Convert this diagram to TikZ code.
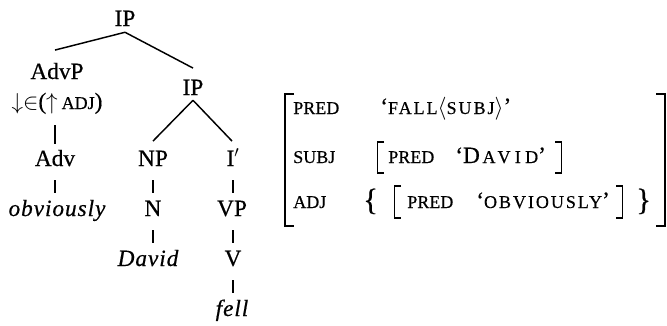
\documentclass[tikz,border=0pt]{standalone}
\usepackage{fontspec}
\setmainfont[FakeBold=0.5]{Liberation Serif}
\newfontfamily\valfont[LetterSpace=11,FakeBold=0.5]{Liberation Serif}
\newfontfamily\valwfont[LetterSpace=24,FakeBold=0.5]{Liberation Serif}
\newfontfamily\itfont[LetterSpace=4,FakeBold=0.5]{Liberation Serif}
\usetikzlibrary{calc}
\newcommand{\smc}[1]{{\fontsize{13.5}{15}\selectfont #1}}
\newcommand{\smv}[1]{{\valfont\fontsize{13.5}{15}\selectfont #1}}
\newcommand{\smw}[1]{{\valwfont\fontsize{13.5}{15}\selectfont #1}}
\newcommand{\itw}[1]{{\itfont\itshape #1}}
\begin{document}
\begin{tikzpicture}[x=0.75pt,y=-0.75pt,
  lab/.style={font=\fontsize{17.5}{20}\selectfont, inner sep=0pt, anchor=base, text height=11pt, text depth=0pt},
  edge/.style={line width=1.1pt},
  avm/.style={font=\fontsize{17.5}{20}\selectfont, inner sep=0pt, anchor=base west},
  brc/.style={font=\fontsize{23}{24}\selectfont, inner sep=0pt, anchor=base west},
  obrk/.style={line width=1.8pt},
  ibrk/.style={line width=1.1pt}]
\useasboundingbox (0,0) rectangle (667,325);
% tree
\node[lab] (ip1) at (125,26) {IP};
\node[lab] (advp) at (57,79) {AdvP};
\node[lab] (ann) at (57,109) {$\downarrow$$\in$($\uparrow$\,\smc{ADJ})};
\node[lab] (ip2) at (193,95) {IP};
\node[lab] (adv) at (55,166) {Adv};
\node[lab] (np) at (153,166) {NP};
\node[lab] (ibar) at (233,166) {I$'$};
\node[lab] (obv) at (57,216) {\itw{obviously}};
\node[lab] (n) at (153,216) {N};
\node[lab] (vp) at (232,216) {VP};
\node[lab] (david) at (148,266) {\itw{David}};
\node[lab] (v) at (233,266) {V};
\node[lab] (fell) at (232,316) {\itw{fell}};
\draw[edge] ($(ip1.south)+(0,6)$) -- ($(advp.north)+(-2,-14)$);
\draw[edge] ($(ip1.south)+(0,6)$) -- ($(ip2.north)+(0,-12)$);
\draw[edge] ($(ip2.south)+(0,5)$) -- ($(np.north)+(0,-10)$);
\draw[edge] ($(ip2.south)+(0,5)$) -- ($(ibar.north)+(-1,-10)$);
\draw[edge] ($(ann.south -| adv)+(0,16)$) -- ($(adv.north)+(0,-7)$);
\draw[edge] ($(adv.south)+(0,14)$) -- ($(adv.south |- obv.north)+(0,-8)$);
\draw[edge] ($(np.south)+(0,14)$) -- ($(n.north)+(0,-8)$);
\draw[edge] ($(n.south)+(0,14)$) -- ($(n.south |- david.north)+(0,-8)$);
\draw[edge] ($(ibar.south)+(0,14)$) -- ($(ibar.south |- vp.north)+(0,-8)$);
\draw[edge] ($(vp.south -| ibar)+(0,14)$) -- ($(ibar.south |- v.north)+(0,-8)$);
\draw[edge] ($(v.south -| ibar)+(0,14)$) -- ($(ibar.south |- fell.north)+(0,-8)$);
% AVM outer brackets
\draw[obrk] (294,94) -- (285,94) -- (285,226) -- (294,226);
\draw[obrk] (656,94) -- (665,94) -- (665,226) -- (656,226);
% row 1
\node[avm] (k1) at (293,114) {\smc{PRED}};
\node[avm] (v1) at (380,114) {‘\smv{FALL}$\langle$\smv{SUBJ}$\rangle$’};
% row 2
\node[avm] (k2) at (293,163) {\smc{SUBJ}};
\draw[ibrk] (384,142) -- (377.5,142) -- (377.5,173) -- (384,173);
\node[avm] (k2p) at (388,163) {\smc{PRED}};
\node[avm] (v2) at (455,163) {‘D\kern2pt\smw{AVID}’};
\draw[ibrk] (555,142) -- (561.5,142) -- (561.5,173) -- (555,173);
% row 3
\node[avm] (k3) at (293,208) {\smc{ADJ}};
\node[brc] (lbr) at (363,210) {\{};
\draw[ibrk] (401,186) -- (394.5,186) -- (394.5,218) -- (401,218);
\node[avm] (k3p) at (407,208) {\smc{PRED}};
\node[avm] (v3) at (476,208) {‘\smv{OBVIOUSLY}’};
\draw[ibrk] (616,186) -- (622.5,186) -- (622.5,218) -- (616,218);
\node[brc] (rbr) at (636,210) {\}};
\end{tikzpicture}
\end{document}
